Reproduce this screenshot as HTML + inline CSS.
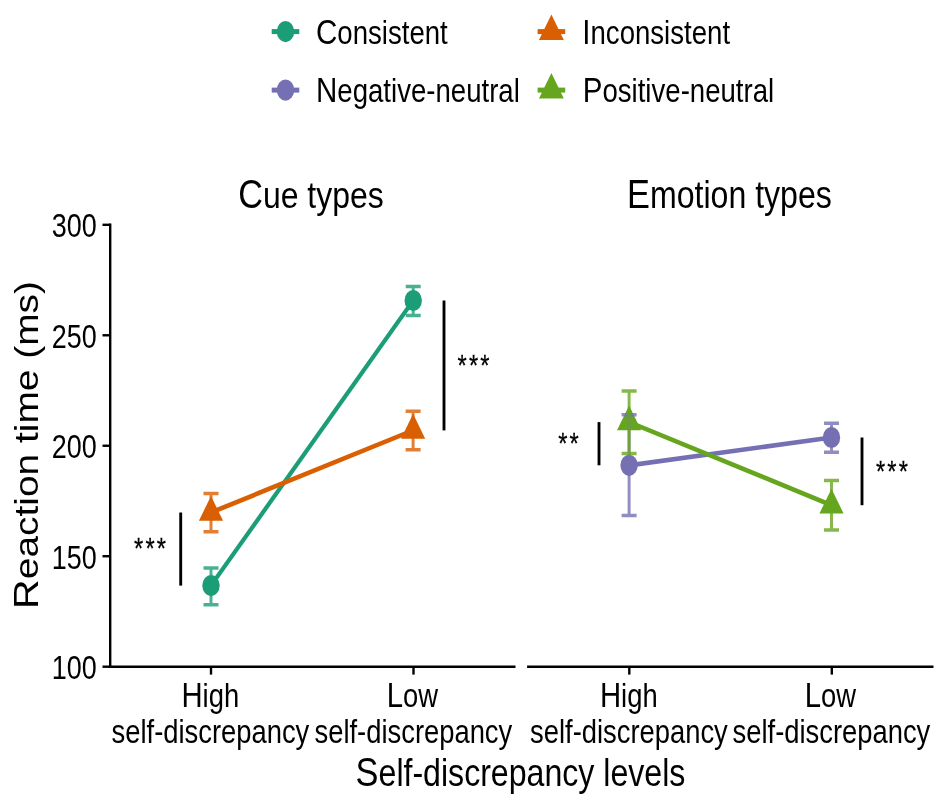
<!DOCTYPE html>
<html><head><meta charset="utf-8"><style>
html,body{margin:0;padding:0;background:#fff;}
svg{display:block;filter:blur(0.35px);}
text{font-family:"Liberation Sans", sans-serif;}
</style></head><body>
<svg width="945" height="805" viewBox="0 0 945 805">
<rect width="945" height="805" fill="#fff"/>
<line transform="scale(0.845,1)" x1="321.54" y1="31.60" x2="354.20" y2="31.60" stroke="#1B9E77" stroke-width="5.0" stroke-linecap="butt"/>
<ellipse cx="285.50" cy="31.60" rx="8.7" ry="10.6" fill="#1B9E77"/>
<text transform="translate(382.55,44.40) scale(0.845,1.0)" x="-78.72" y="0" font-size="32.65" fill="#000"><tspan font-size="34.94">C</tspan>onsistent</text>
<line transform="scale(0.845,1)" x1="636.21" y1="31.60" x2="668.88" y2="31.60" stroke="#D95F02" stroke-width="5.0" stroke-linecap="butt"/>
<path transform="scale(0.845,1)" d="M652.54,14.57L667.27,40.11L637.82,40.11Z" fill="#D95F02"/>
<text transform="translate(657.45,44.40) scale(0.845,1.0)" x="-88.93" y="0" font-size="32.65" fill="#000"><tspan font-size="34.94">I</tspan>nconsistent</text>
<line transform="scale(0.845,1)" x1="321.54" y1="90.10" x2="354.20" y2="90.10" stroke="#7570B3" stroke-width="5.0" stroke-linecap="butt"/>
<ellipse cx="285.50" cy="90.10" rx="8.7" ry="10.6" fill="#7570B3"/>
<text transform="translate(418.20,102.40) scale(0.845,1.0)" x="-120.95" y="0" font-size="32.65" fill="#000"><tspan font-size="34.94">N</tspan>egative-neutral</text>
<line transform="scale(0.845,1)" x1="636.21" y1="90.10" x2="668.88" y2="90.10" stroke="#66A61E" stroke-width="5.0" stroke-linecap="butt"/>
<path transform="scale(0.845,1)" d="M652.54,73.07L667.27,98.61L637.82,98.61Z" fill="#66A61E"/>
<text transform="translate(678.75,102.40) scale(0.845,1.0)" x="-113.62" y="0" font-size="32.65" fill="#000"><tspan font-size="34.94">P</tspan>ositive-neutral</text>
<text transform="translate(311.25,208.00) scale(0.845,1.0)" x="-86.40" y="0" font-size="37.8" fill="#000"><tspan font-size="40.45">C</tspan>ue types</text>
<text transform="translate(730.30,208.00) scale(0.845,1.0)" x="-122.26" y="0" font-size="38.0" fill="#000"><tspan font-size="40.66">E</tspan>motion types</text>
<path d="M110.2,223.6V667.9" stroke="#000" stroke-width="2.4" fill="none"/>
<path d="M109,666.7H515.5M527.1,666.7H933.5" stroke="#000" stroke-width="2.4" fill="none"/>
<path d="M102.5,666.70H110.2" stroke="#000" stroke-width="2.4"/>
<text transform="translate(95.60,679.00) scale(0.835,1.0)" x="-52.63" y="0" font-size="32.3" fill="#000">100</text>
<path d="M102.5,556.23H110.2" stroke="#000" stroke-width="2.4"/>
<text transform="translate(95.60,568.52) scale(0.835,1.0)" x="-52.63" y="0" font-size="32.3" fill="#000">150</text>
<path d="M102.5,445.75H110.2" stroke="#000" stroke-width="2.4"/>
<text transform="translate(95.60,458.05) scale(0.835,1.0)" x="-52.63" y="0" font-size="32.3" fill="#000">200</text>
<path d="M102.5,335.28H110.2" stroke="#000" stroke-width="2.4"/>
<text transform="translate(95.60,347.58) scale(0.835,1.0)" x="-52.63" y="0" font-size="32.3" fill="#000">250</text>
<path d="M102.5,224.80H110.2" stroke="#000" stroke-width="2.4"/>
<text transform="translate(95.60,237.10) scale(0.835,1.0)" x="-52.63" y="0" font-size="32.3" fill="#000">300</text>
<path d="M211.0,666.7V674.6" stroke="#000" stroke-width="2.4"/>
<path d="M413.5,666.7V674.6" stroke="#000" stroke-width="2.4"/>
<path d="M629.3,666.7V674.6" stroke="#000" stroke-width="2.4"/>
<path d="M831.8,666.7V674.6" stroke="#000" stroke-width="2.4"/>
<text transform="translate(210.60,706.90) scale(0.845,1.0)" x="-34.51" y="0" font-size="32.4" fill="#000"><tspan font-size="34.67">H</tspan>igh</text>
<text transform="translate(210.80,742.60) scale(0.845,1.0)" x="-117.47" y="0" font-size="32.4" fill="#000">self-discrepancy</text>
<text transform="translate(413.55,706.90) scale(0.845,1.0)" x="-31.81" y="0" font-size="32.4" fill="#000"><tspan font-size="34.67">L</tspan>ow</text>
<text transform="translate(413.75,742.60) scale(0.845,1.0)" x="-117.47" y="0" font-size="32.4" fill="#000">self-discrepancy</text>
<text transform="translate(629.10,706.90) scale(0.845,1.0)" x="-34.51" y="0" font-size="32.4" fill="#000"><tspan font-size="34.67">H</tspan>igh</text>
<text transform="translate(629.30,742.60) scale(0.845,1.0)" x="-117.47" y="0" font-size="32.4" fill="#000">self-discrepancy</text>
<text transform="translate(831.60,706.90) scale(0.845,1.0)" x="-31.81" y="0" font-size="32.4" fill="#000"><tspan font-size="34.67">L</tspan>ow</text>
<text transform="translate(831.80,742.60) scale(0.845,1.0)" x="-117.47" y="0" font-size="32.4" fill="#000">self-discrepancy</text>
<text transform="translate(520.75,785.90) scale(0.845,1.0)" x="-195.43" y="0" font-size="38.0" fill="#000"><tspan font-size="40.66">S</tspan>elf-discrepancy levels</text>
<text transform="translate(37.50,444.60) scale(0.8450,1) rotate(-90)" x="-164.68" y="0" font-size="38.9" fill="#000"><tspan font-size="41.62">R</tspan>eaction time (ms)</text>
<line transform="scale(0.845,1)" x1="249.70" y1="585.60" x2="488.99" y2="300.50" stroke="#1B9E77" stroke-width="4.7" stroke-linecap="butt"/>
<line transform="scale(0.845,1)" x1="249.70" y1="512.50" x2="488.88" y2="430.40" stroke="#D95F02" stroke-width="4.7" stroke-linecap="butt"/>
<line transform="scale(0.845,1)" x1="744.50" y1="465.30" x2="984.02" y2="437.50" stroke="#7570B3" stroke-width="4.7" stroke-linecap="butt"/>
<line transform="scale(0.845,1)" x1="744.50" y1="422.10" x2="984.02" y2="505.20" stroke="#66A61E" stroke-width="4.7" stroke-linecap="butt"/>
<ellipse cx="211.00" cy="585.60" rx="8.7" ry="10.6" fill="#1B9E77"/>
<ellipse cx="413.20" cy="300.50" rx="8.7" ry="10.6" fill="#1B9E77"/>
<path transform="scale(0.845,1)" d="M249.70,495.97L264.00,520.77L235.40,520.77Z" fill="#D95F02"/>
<path transform="scale(0.845,1)" d="M488.88,413.87L503.18,438.67L474.58,438.67Z" fill="#D95F02"/>
<ellipse cx="629.10" cy="465.30" rx="8.7" ry="10.6" fill="#7570B3"/>
<ellipse cx="831.50" cy="437.50" rx="8.7" ry="10.6" fill="#7570B3"/>
<path transform="scale(0.845,1)" d="M744.50,405.57L758.80,430.37L730.20,430.37Z" fill="#66A61E"/>
<path transform="scale(0.845,1)" d="M984.02,488.67L998.32,513.47L969.72,513.47Z" fill="#66A61E"/>
<path transform="scale(0.845,1)" stroke="#1B9E77" stroke-opacity="0.8" stroke-width="3.5" fill="none" d="M240.83,568.10H258.58M249.70,568.10V604.70M240.83,604.70H258.58"/>
<path transform="scale(0.845,1)" stroke="#1B9E77" stroke-opacity="0.8" stroke-width="3.5" fill="none" d="M480.12,286.50H497.87M488.99,286.50V315.50M480.12,315.50H497.87"/>
<path transform="scale(0.845,1)" stroke="#D95F02" stroke-opacity="0.8" stroke-width="3.5" fill="none" d="M240.83,493.50H258.58M249.70,493.50V531.70M240.83,531.70H258.58"/>
<path transform="scale(0.845,1)" stroke="#D95F02" stroke-opacity="0.8" stroke-width="3.5" fill="none" d="M480.00,411.20H497.75M488.88,411.20V449.70M480.00,449.70H497.75"/>
<path transform="scale(0.845,1)" stroke="#7570B3" stroke-opacity="0.8" stroke-width="3.5" fill="none" d="M735.62,414.80H753.37M744.50,414.80V515.40M735.62,515.40H753.37"/>
<path transform="scale(0.845,1)" stroke="#7570B3" stroke-opacity="0.8" stroke-width="3.5" fill="none" d="M975.15,423.20H992.90M984.02,423.20V452.30M975.15,452.30H992.90"/>
<path transform="scale(0.845,1)" stroke="#66A61E" stroke-opacity="0.8" stroke-width="3.5" fill="none" d="M735.62,391.00H753.37M744.50,391.00V453.40M735.62,453.40H753.37"/>
<path transform="scale(0.845,1)" stroke="#66A61E" stroke-opacity="0.8" stroke-width="3.5" fill="none" d="M975.15,480.60H992.90M984.02,480.60V530.00M975.15,530.00H992.90"/>
<line transform="scale(0.845,1)" x1="213.85" y1="512.50" x2="213.85" y2="585.60" stroke="#000" stroke-width="3.4" stroke-linecap="butt"/>
<line transform="scale(0.845,1)" x1="525.44" y1="300.50" x2="525.44" y2="430.40" stroke="#000" stroke-width="3.4" stroke-linecap="butt"/>
<line transform="scale(0.845,1)" x1="708.88" y1="422.10" x2="708.88" y2="465.30" stroke="#000" stroke-width="3.4" stroke-linecap="butt"/>
<line transform="scale(0.845,1)" x1="1020.12" y1="437.50" x2="1020.12" y2="505.20" stroke="#000" stroke-width="3.4" stroke-linecap="butt"/>
<text transform="translate(150.00,558.30) scale(0.845,1.08)" x="-18.89" y="0" font-size="28" letter-spacing="2.54" fill="#000" stroke="#000" stroke-width="0.25">***</text>
<text transform="translate(473.55,375.35) scale(0.845,1.08)" x="-18.89" y="0" font-size="28" letter-spacing="2.54" fill="#000" stroke="#000" stroke-width="0.25">***</text>
<text transform="translate(568.50,453.15) scale(0.845,1.08)" x="-12.17" y="0" font-size="28" letter-spacing="2.54" fill="#000" stroke="#000" stroke-width="0.25">**</text>
<text transform="translate(891.90,481.20) scale(0.845,1.08)" x="-18.89" y="0" font-size="28" letter-spacing="2.54" fill="#000" stroke="#000" stroke-width="0.25">***</text>
</svg>
</body></html>
